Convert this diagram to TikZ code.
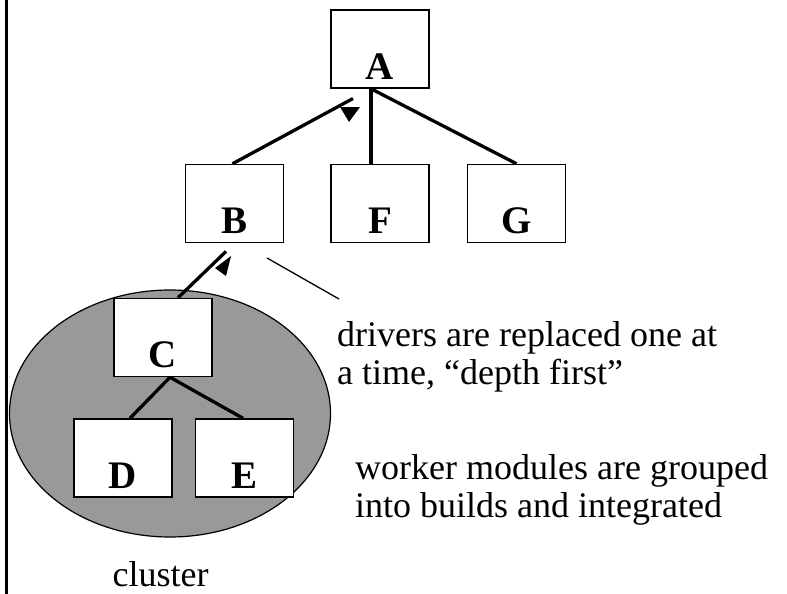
\documentclass[tikz,border=0pt]{standalone}
\usepackage{fontspec}
\setmainfont{Liberation Serif}
\usepackage{tikz}
\usetikzlibrary{positioning,calc,shapes.geometric}

\definecolor{clustergray}{gray}{0.6}

\begin{document}
\begin{tikzpicture}[x=1pt, y=-1pt,
    node distance=40pt,
    box/.style={
      draw, line width=1.5pt, fill=white, minimum width=98pt, minimum height=78pt,
      inner sep=0pt, text height=60pt, text depth=0pt,
      font=\fontsize{39}{41}\selectfont\bfseries
    },
    edge/.style={line width=3.3pt},
    tip/.style={fill=black},
    lbl/.style={font=\fontsize{36}{38}\selectfont, align=left, inner sep=0pt}
  ]
  \useasboundingbox (0,0) rectangle (787,594);

  % left border rule
  \draw[line width=2.5pt] (6.5,0) -- (6.5,594);

  % ===== cluster (drawn first, behind the boxes) =====
  \node[ellipse, draw, line width=1.2pt, fill=clustergray,
        minimum width=321pt, minimum height=247pt] (clus) at (170,413.5) {};

  % ===== top of the tree =====
  \node[box] (A) at (380,49) {A};
  \node[box, below=75pt of A] (F) {F};
  \node[box, left=46pt of F] (B) {B};
  \node[box, right=37pt of F] (G) {G};

  % ===== the cluster's modules =====
  \node[box] (C) at (163,337.5) {C};
  \node[box] (D) at (123,458) {D};
  \node[box, right=22pt of D] (E) {E};

  % edge end points
  \coordinate (Aout) at ([xshift=-9pt]A.south);
  \coordinate (Bin) at ([xshift=-2pt]B.north);
  \coordinate (Cin) at ([xshift=15pt]C.north);
  \coordinate (Cout) at ([xshift=7pt]C.south);

  \draw[edge] (Aout) -- (Aout |- F.north);
  \draw[edge] (Aout) -- (G.north);
  \draw[edge] (Bin) -- ($(Bin)!0.87!(Aout)$);
  \draw[edge] (Cin) -- ($(Cin)!0.85!(B.south)$);
  \draw[edge] (Cout) -- ([xshift=7pt]D.north);
  \draw[edge] (Cout) -- ([xshift=-1.5pt]E.north);

  % traversal marks
  \fill[tip] (340,107) -- (360,107) -- (349,122) -- cycle;
  \fill[tip] (231,256) -- (215,268) -- (226,276) -- cycle;

  % notes
  \coordinate (ptr) at (267,258);
  \node[lbl, anchor=base west] (drv) at (337,384)
    {drivers are replaced one at\\a time, “depth first”};
  \draw[line width=1.3pt] (ptr) -- (339,299);

  \node[lbl, anchor=base west] (wrk) at (355,517)
    {worker modules are grouped\\into builds and integrated};

  \node[lbl, anchor=base] (clab) at (160.5,586) {cluster};

\end{tikzpicture}
\end{document}
